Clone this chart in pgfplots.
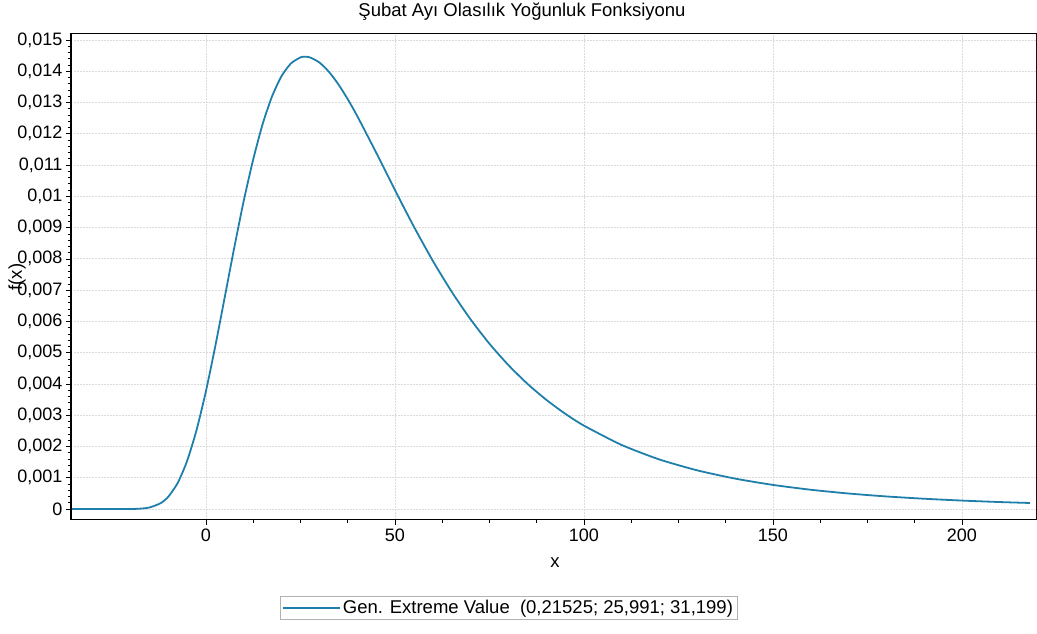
\documentclass[border=0pt]{standalone}
\usepackage{pgfplots}
\pgfplotsset{compat=1.18}
\usepackage{fontspec}
\setmainfont{Liberation Sans}
\definecolor{curve}{RGB}{30,128,170}
\begin{document}
\begin{tikzpicture}[x=1pt,y=1pt]
\useasboundingbox (0,0) rectangle (1037,634);
\begin{axis}[
  at={(71pt,114pt)}, anchor=south west,
  scale only axis, width=965pt, height=486pt,
  xmin=-35.7, xmax=219.6, ymin=-0.00035, ymax=0.01519,
  xtick={0,50,100,150,200}, minor x tick num=3,
  ytick={0,0.001,0.002,0.003,0.004,0.005,0.006,0.007,0.008,0.009,0.01,0.011,0.012,0.013,0.014,0.015},
  minor y tick num=4,
  scaled y ticks=false,
  yticklabel style={/pgf/number format/.cd, use comma, fixed, precision=3},
  xticklabel style={/pgf/number format/.cd, use comma, 1000 sep={}},
  /pgf/number format/assume math mode=true,
  tick label style={font=\fontsize{18}{18}\selectfont, black},
  tick align=outside, xtick pos=bottom, ytick pos=left,
  major tick length=5pt, minor tick length=3pt,
  tick style={black, line width=0.6pt},
  grid=major,
  major grid style={gray!28, line width=0.8pt, dash pattern=on 1.5pt off 1.5pt},
  axis line style={black, line width=1pt},
  legend style={at={(0.4534,-0.181)}, anchor=center, draw=gray!60, line width=0.8pt,
    font=\fontsize{18.5}{18.5}\selectfont, inner xsep=2pt, inner ysep=2pt},
  legend image code/.code={\draw[#1, line width=1.8pt] (0pt,0pt) -- (57pt,0pt);},
]
\addplot[curve, line width=1.8pt, smooth, tension=0.4] coordinates {
(-35.7,0) (-30,0) (-25,0) (-20,0.000002) (-17.5,0.0000117) (-15,0.0000485) (-12,0.000187)
(-10,0.000389) (-7.5,0.000828) (-5,0.001532) (-2.5,0.002519) (0,0.003770)
(2.5,0.005225) (5,0.006789) (7.5,0.008364) (10,0.009856) (12.5,0.011176)
(15,0.012311) (17.5,0.013199) (20,0.013844) (22.5,0.014250) (25,0.014442)
(26.2,0.014465) (27.5,0.014442) (30,0.014281) (32.5,0.013986) (35,0.013588)
(37.5,0.013108) (40,0.012573) (45,0.011406) (50,0.010201) (55,0.009032)
(60,0.007942) (65,0.006951) (70,0.006066) (75,0.005287) (80,0.004605)
(85,0.004011) (90,0.003497) (95,0.003052) (100,0.002667) (110,0.002048)
(120,0.001584) (130,0.001237) (140,0.000973) (150,0.000772) (160,0.000617)
(170,0.000497) (180,0.000403) (190,0.000330) (200,0.000271) (210,0.000224)
(218,0.000194)
};
\addlegendentry{Gen. Extreme Value\ \ (0,21525; 25,991; 31,199)}
\draw[black, line width=2pt] (rel axis cs:0,1) -- (rel axis cs:0,0) -- (rel axis cs:1,0);
\draw[gray!70, line width=1pt] (rel axis cs:1,0) -- (rel axis cs:1,1);
\end{axis}
\node[font=\fontsize{18.5}{18.5}\selectfont] at (522,622) {Şubat Ayı Olasılık Yoğunluk Fonksiyonu};
\node[font=\fontsize{18.5}{18.5}\selectfont, rotate=90] at (17,357) {f(x)};
\node[font=\fontsize{18.5}{18.5}\selectfont] at (555,71) {x};
\end{tikzpicture}
\end{document}
